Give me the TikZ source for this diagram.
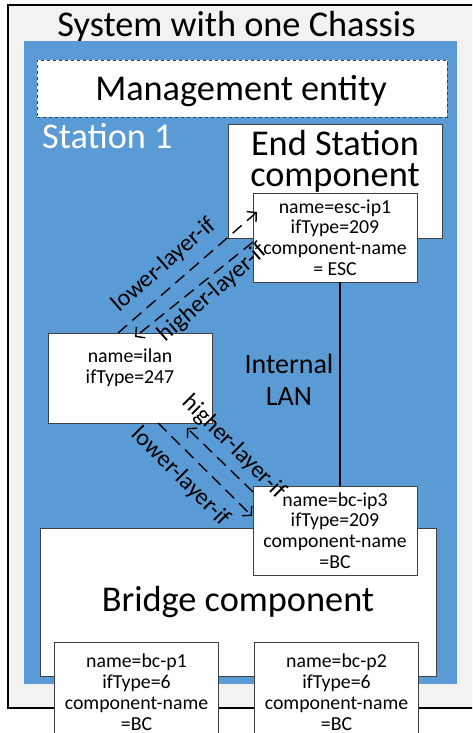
\documentclass[tikz,border=0pt]{standalone}
\usepackage{fontspec}
\setmainfont{Carlito}
\usetikzlibrary{arrows.meta}
\definecolor{blu}{HTML}{5B9BD5}
\definecolor{lgrey}{HTML}{F2F2F2}
\definecolor{edge}{HTML}{404040}
\newcommand\fsBig{\fontsize{36.3}{32}\selectfont}
\newcommand\fsMid{\fontsize{28}{32}\selectfont}
\newcommand\fsLbl{\fontsize{24}{26}\selectfont}
\newcommand\fsSmall{\fontsize{19.8}{20.8}\selectfont}
\tikzset{
  whitebox/.style={draw=edge, line width=0.9pt, fill=white, inner sep=0pt},
  ifbox/.style={whitebox, minimum width=164pt, minimum height=89pt, align=center, font=\fsSmall},
  lnk/.style={draw=black, line width=1.4pt, dash pattern=on 12pt off 7pt, -{Straight Barb[length=6.5pt,width=14pt]}},
  lbl/.style={font=\fsLbl, inner sep=0pt}
}
\begin{document}
\begin{tikzpicture}[x=1pt,y=-1pt]
\useasboundingbox (0,0) rectangle (472,733);
\begin{scope}
\clip (0,0) rectangle (472,733);
% outer chassis
\draw[fill=lgrey, draw=black, line width=1.2pt] (8,5) rectangle (490,708);
\node[font=\fsBig, anchor=base, inner sep=0pt] (sys) at (236.5,37) {System with one Chassis};
% station
\fill[blu] (24,41) rectangle (457,684);
\node[draw=edge, dashed, line width=0.9pt, fill=white, minimum width=410pt, minimum height=57pt] (mgmt) at (242,88.5) {};
\node[font=\fsBig, anchor=base, inner sep=0pt] (mgmtt) at (241,101) {Management entity};
\node[font=\fsBig, text=white, anchor=base west, inner sep=0pt] (st1) at (42,149) {Station 1};
% end station component
\node[whitebox, minimum width=214pt, minimum height=114pt] (esc) at (335,181) {};
\node[font=\fsBig, anchor=base, inner sep=0pt, align=center] (esct) at (335,155) {End Station};
\node[font=\fsBig, anchor=base, inner sep=0pt] (esct2) at (335,186) {component};
\node[ifbox] (escip) at (335,237.5) {name=esc-ip1\\ifType=209\\component-name\\= ESC};
% ilan
\node[whitebox, minimum width=164pt, minimum height=90pt] (ilan) at (130,378) {};
\node[font=\fsSmall, align=center, inner sep=0pt] (ilant) at (130,368) {name=ilan\\ifType=247};
% internal LAN
\node[font=\fsMid, align=center, inner sep=0pt] (lan) at (289,380) {Internal\\LAN};
% bridge
\node[whitebox, minimum width=396pt, minimum height=148pt, font=\fsBig] (br) at (238,602) {Bridge component};
\node[ifbox] (bcip) at (335,530.5) {name=bc-ip3\\ifType=209\\component-name\\=BC};
\node[ifbox, minimum height=100pt] (bcp1) at (136.5,692) {name=bc-p1\\ifType=6\\component-name\\=BC};
\node[ifbox, minimum height=100pt] (bcp2) at (336.5,692) {name=bc-p2\\ifType=6\\component-name\\=BC};
% internal LAN line
\draw[line width=1.2pt] ([xshift=5pt]escip.south) -- ([xshift=5pt]bcip.north);
% dashed links upper
\coordinate (u1a) at (118,333);
\coordinate (u1b) at (257,212);
\coordinate (u2a) at (253,242);
\coordinate (u2b) at (135,337);
\draw[lnk] (u1a) -- (u1b);
\draw[lnk] (u2a) -- (u2b);
\node[lbl, rotate=41] (l1) at (164,265) {lower-layer-if};
\node[lbl, rotate=41] (l2) at (213,293) {higher-layer-if};
% dashed links lower
\coordinate (d1a) at (253,492);
\coordinate (d1b) at (187,428);
\coordinate (d2a) at (158,423);
\coordinate (d2b) at (252,516);
\draw[lnk] (d1a) -- (d1b);
\draw[lnk] (d2a) -- (d2b);
\node[lbl, rotate=-45] (l3) at (234,447) {higher-layer-if};
\node[lbl, rotate=-45] (l4) at (181,477) {lower-layer-if};
\end{scope}
\end{tikzpicture}
\end{document}
